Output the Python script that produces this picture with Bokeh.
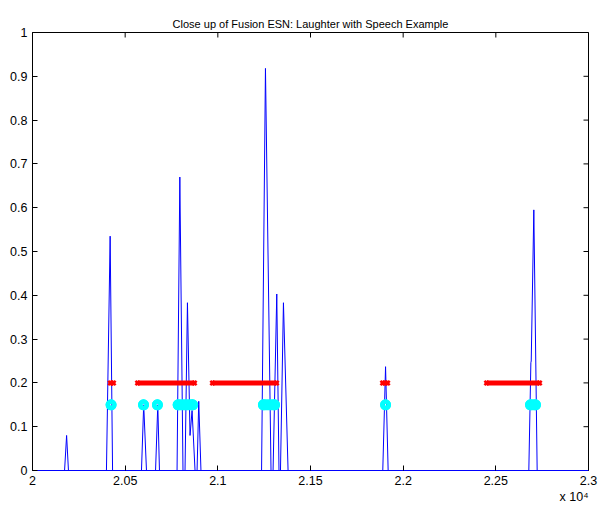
import math
from bokeh.plotting import figure
from bokeh.models import Range1d, FixedTicker, Title
from bokeh.embed import file_html
from bokeh.resources import INLINE

# ---- data ----
blue_x = [20000, 20173, 20184, 20194, 20399, 20419, 20432,
          20588, 20600, 20615, 20664, 20676, 20685,
          20780, 20795, 20812, 20823, 20836, 20850, 20861, 20877,
          20888, 20897, 20909,
          21236, 21257, 21287, 21298, 21318, 21330, 21338, 21354, 21379,
          21890, 21905, 21919,
          22678, 22689, 22691, 22705, 22723, 23000]
blue_y = [0, 0, 0.08, 0, 0, 0.535, 0,
          0, 0.15, 0, 0, 0.15, 0,
          0, 0.67, 0, 0, 0.383, 0.08, 0.137, 0,
          0, 0.158, 0,
          0, 0.918, 0, 0, 0.403, 0, 0, 0.383, 0,
          0, 0.237, 0,
          0, 0.246, 0.25, 0.595, 0, 0]

red_start = [20420, 20567, 20971, 21889, 22450]
red_end = [20437, 20874, 21317, 21916, 22736]
red_level = 0.2

cyan_start = [20424, 20599, 20674, 20786, 21246, 21905, 22687]
cyan_end = [20424, 20599, 20674, 20864, 21306, 21905, 22714]
cyan_level = 0.15

x_ticks = [20000, 20500, 21000, 21500, 22000, 22500, 23000]
x_tick_labels = ["2", "2.05", "2.1", "2.15", "2.2", "2.25", "2.3"]
y_ticks = [0, 0.1, 0.2, 0.3, 0.4, 0.5, 0.6, 0.7, 0.8, 0.9, 1]
y_tick_labels = ["0", "0.1", "0.2", "0.3", "0.4", "0.5", "0.6", "0.7", "0.8", "0.9", "1"]
x_min, x_max = 20000, 23000
y_min, y_max = 0, 1

title_text = "Close up of Fusion ESN: Laughter with Speech Example"
exponent_text = "x 10\u2074"

FONT = "Liberation Sans"
TICK_FS = "12.5px"

p = figure(width=599, height=508, output_backend="svg", toolbar_location=None,
           x_range=Range1d(x_min, x_max), y_range=Range1d(y_min, y_max),
           frame_width=556, frame_height=438,
           min_border_left=32, min_border_right=11, min_border_top=32, min_border_bottom=38)
p.title.text = title_text
p.title.text_font = FONT
p.title.text_font_size = "11px"
p.title.text_font_style = "normal"
p.title.text_color = "black"
p.title.align = "center"
p.title.standoff = 6

p.xgrid.visible = False
p.ygrid.visible = False
p.outline_line_color = "black"
p.outline_line_width = 1
p.background_fill_color = "white"
p.border_fill_color = "white"

# main signal
p.line(blue_x, blue_y, line_color="#0000ff", line_width=1)

# ground-truth labels (red x)
n_r = len(red_start)
p.segment(x0=red_start, y0=[red_level] * n_r, x1=red_end, y1=[red_level] * n_r,
          line_color="#ff0000", line_width=5, line_cap="butt")
p.scatter(red_start + red_end, [red_level] * (2 * n_r), marker="x", size=6,
          line_color="#ff0000", line_width=2.5)

# detections (cyan o)
n_c = len(cyan_start)
p.scatter(cyan_start + cyan_end, [cyan_level] * (2 * n_c), marker="circle", size=6.5,
          fill_alpha=0, line_color="#00ffff", line_width=4.5)
long_s = [s for s, e in zip(cyan_start, cyan_end) if e > s]
long_e = [e for s, e in zip(cyan_start, cyan_end) if e > s]
p.segment(x0=long_s, y0=[cyan_level] * len(long_s), x1=long_e, y1=[cyan_level] * len(long_s),
          line_color="#00ffff", line_width=11, line_cap="round")

# inward ticks on the top and right edges of the box (half of each dash is clipped by the frame)
p.scatter(x_ticks, [y_max] * len(x_ticks), marker="dash", size=10, angle=math.pi / 2,
          line_color="black", line_width=1)
p.scatter([x_max] * len(y_ticks), y_ticks, marker="dash", size=10,
          line_color="black", line_width=1)

def style_axis(ax, ticks, labels):
    ax.ticker = FixedTicker(ticks=ticks)
    ax.minor_tick_line_color = None
    ax.major_tick_in = 5
    ax.major_tick_out = 0
    ax.major_tick_line_color = "black"
    ax.axis_line_color = "black"
    ax.major_label_overrides = {t: l for t, l in zip(ticks, labels)}
    ax.major_label_text_font = FONT
    ax.major_label_text_font_size = TICK_FS
    ax.major_label_text_color = "black"
    ax.major_label_standoff = 5

style_axis(p.xaxis[0], x_ticks, x_tick_labels)
p.xaxis[0].axis_line_color = "#0000ff"
style_axis(p.yaxis[0], y_ticks, y_tick_labels)

p.add_layout(Title(text=exponent_text, align="right", text_font=FONT, text_font_size="12.5px",
                   text_font_style="normal", text_color="black", standoff=0), "below")

open("out.html", "w").write(file_html(p, INLINE))
